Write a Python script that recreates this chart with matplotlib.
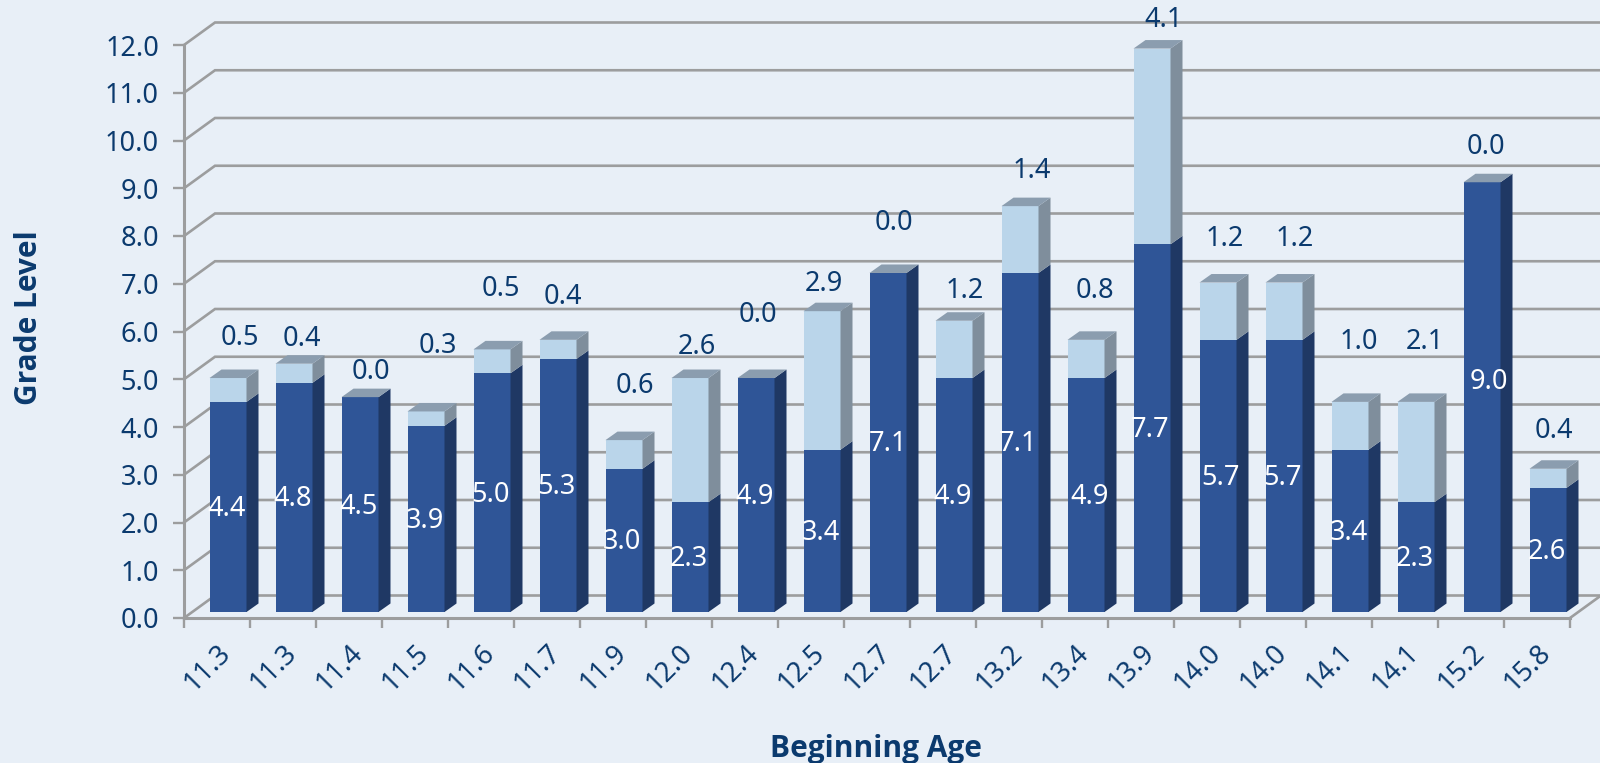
import matplotlib
matplotlib.use('Agg')
import matplotlib.pyplot as plt

ages = ['11.3', '11.3', '11.4', '11.5', '11.6', '11.7', '11.9', '12.0', '12.4', '12.5', '12.7',
        '12.7', '13.2', '13.4', '13.9', '14.0', '14.0', '14.1', '14.1', '15.2', '15.8']
lower = [4.4, 4.8, 4.5, 3.9, 5.0, 5.3, 3.0, 2.3, 4.9, 3.4, 7.1, 4.9, 7.1, 4.9, 7.7, 5.7, 5.7, 3.4, 2.3, 9.0, 2.6]
upper = [0.5, 0.4, 0.0, 0.3, 0.5, 0.4, 0.6, 2.6, 0.0, 2.9, 0.0, 1.2, 1.4, 0.8, 4.1, 1.2, 1.2, 1.0, 2.1, 0.0, 0.4]

# heights (in grade levels) where the upper labels were placed by hand
upper_label_y = [5.87, 5.85, 5.16, 5.70, 6.88, 6.73, 4.85, 5.68, 6.34, 6.99, 8.27,
                 6.84, 9.37, 6.84, 12.53, 7.93, 7.93, 5.79, 5.79, 9.86, 3.92]
# sideways nudges of the hand placed labels, in pixels
upper_label_dx = [13, 9, 12, 13, 10, 6, 12, 8, 3, 3, 7, 12, 13, 10, 13, 8, 12, 10, 10, 5, 7]
lower_label_dx = [0, 0, 0, 0, 0, 0, 0, 0, 0, 0, 1, 0, 0, 5, 0, 4, 0, 0, 0, 8, 0]

bg = '#E8EFF7'
text_col = '#0B3A6E'
grid_col = '#9C9D9E'
dark, dark_side = '#2F5597', '#1F3864'
light, light_side = '#BAD5EA', '#7F8E9C'
top_col = '#8B9DAF'

plt.rcParams['font.family'] = ['Noto Sans', 'DejaVu Sans']

W, H = 1600, 763
fig = plt.figure(figsize=(W / 100, H / 100), dpi=100, facecolor=bg)
ax = fig.add_axes([184 / W, (H - 618) / H, 1386 / W, 573 / H])
ax.set_facecolor('none')
ax.set_xlim(0, 21)
ax.set_ylim(0, 12)

px_x = 21 / 1386
px_y = 12 / 573

# back wall and floor
wall_dx, wall_dy = 31 * px_x, 22.5 * px_y
for lev in range(13):
    ax.plot([0, wall_dx, 21 + wall_dx], [lev, lev + wall_dy, lev + wall_dy], color=grid_col, lw=1.9,
            clip_on=False, zorder=1, solid_joinstyle='miter')
ax.plot([21, 21 + wall_dx], [0, wall_dy], color=grid_col, lw=1.9, clip_on=False, zorder=1)

# bars with a fake depth
bar_off, bar_w = 25.5 * px_x, 37 * px_x
floor = 6 * px_y
dep_x, dep_y = 12 * px_x, 8.5 * px_y

for i in range(len(ages)):
    x0 = i + bar_off
    x1 = x0 + bar_w
    y1 = floor + lower[i]
    y2 = y1 + upper[i]
    ax.bar(x0, lower[i], bar_w, bottom=floor, align='edge', color=dark, zorder=3, clip_on=False)
    ax.fill([x1, x1 + dep_x, x1 + dep_x, x1], [floor, floor + dep_y, y1 + dep_y, y1],
            color=dark_side, lw=0, zorder=3, clip_on=False)
    if upper[i] > 0:
        ax.bar(x0, upper[i], bar_w, bottom=y1, align='edge', color=light, zorder=3, clip_on=False)
        ax.fill([x1, x1 + dep_x, x1 + dep_x, x1], [y1, y1 + dep_y, y2 + dep_y, y2],
                color=light_side, lw=0, zorder=3, clip_on=False)
    ax.fill([x0, x1, x1 + dep_x, x0 + dep_x], [y2, y2, y2 + dep_y, y2 + dep_y],
            color=top_col, lw=0, zorder=3, clip_on=False)

    mid = floor + lower[i] / 2 - 2 * px_y
    if lower[i] == 9.0:
        mid += 0.35
    ax.text(x0 + bar_w / 2 + (lower_label_dx[i] - 1.5) * px_x, mid, f'{lower[i]:.1f}', color='white',
            fontsize=19.5, ha='center', va='center', zorder=5)
    ax.text(x0 + bar_w / 2 + (upper_label_dx[i] - 1.5) * px_x, upper_label_y[i], f'{upper[i]:.1f}',
            color=text_col, fontsize=19.5, ha='center', va='center', zorder=5, clip_on=False)

# axes
for side in ['top', 'right']:
    ax.spines[side].set_visible(False)
for side in ['left', 'bottom']:
    ax.spines[side].set_color(grid_col)
    ax.spines[side].set_linewidth(2.2)
    ax.spines[side].set_zorder(2)

ax.set_yticks(range(13))
ax.set_yticklabels([f'{v:.1f}' for v in range(13)], fontsize=19.5, color=text_col)
ax.tick_params(axis='y', length=8, width=1.7, color=grid_col, pad=10)

ax.set_xticks(range(22))
ax.set_xticklabels([])
ax.tick_params(axis='x', which='major', length=7, width=1.7, color=grid_col)
ax.set_xticks([i + 0.5 for i in range(21)], minor=True)
ax.set_xticklabels(ages, minor=True, rotation=45, ha='right', rotation_mode='anchor',
                   fontsize=19.5, color=text_col)
ax.tick_params(axis='x', which='minor', length=0, pad=15)

fig.text(876 / W, 1 - 749 / H, 'Beginning Age', fontsize=21.5, fontweight='bold', color=text_col,
         family='Open Sans', ha='center', va='center')
fig.text(29 / W, 1 - 318 / H, 'Grade Level', fontsize=21.5, fontweight='bold', color=text_col,
         family='Open Sans', rotation=90, ha='center', va='center')

fig.savefig('out.png', dpi=100, facecolor=bg)
